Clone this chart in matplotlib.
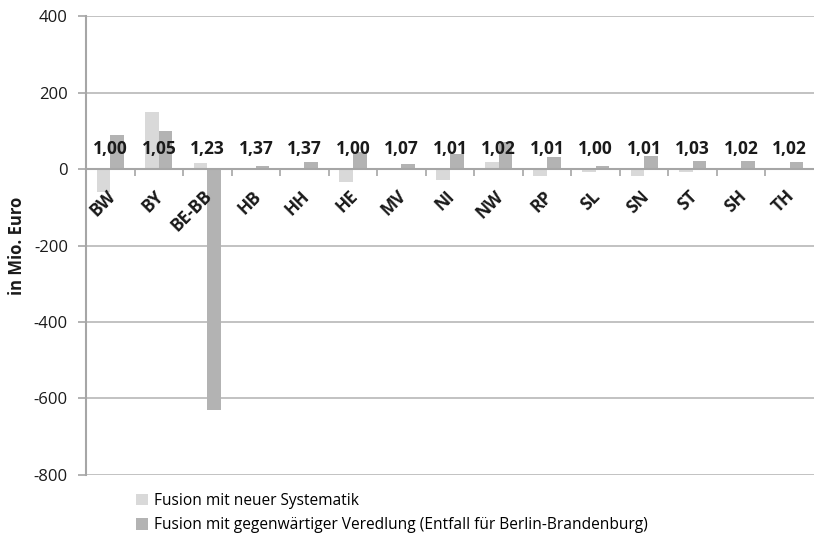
import matplotlib.pyplot as plt
import matplotlib.transforms as mtransforms
import numpy as np

plt.rcParams['font.family'] = ['Open Sans', 'DejaVu Sans']
plt.rcParams['axes.unicode_minus'] = False

# Daten
laender = ['BW', 'BY', 'BE-BB', 'HB', 'HH', 'HE', 'MV', 'NI', 'NW', 'RP',
           'SL', 'SN', 'ST', 'SH', 'TH']
neue_systematik = [-60, 150, 15, 0, 0, -34, 0, -28, 18, -17, -8, -19, -7, 0, 0]
gegenw_veredlung = [90, 100, -631, 7, 18, 45, 14, 40, 70, 31, 8, 34, 20, 22, 18]
faktoren = ['1,00', '1,05', '1,23', '1,37', '1,37', '1,00', '1,07', '1,01',
            '1,02', '1,01', '1,00', '1,01', '1,03', '1,02', '1,02']

HELL = '#d9d9d9'
DUNKEL = '#b3b3b3'
GRAU = '#a6a6a6'
TEXT = '#1a1a1a'

fig = plt.figure(figsize=(8.14, 5.34), dpi=100)
ax = fig.add_axes([0.1057, 0.1105, 0.8943, 0.8595])

x = np.arange(len(laender))
w = 0.28
ax.bar(x - w / 2, neue_systematik, w, color=HELL, zorder=3,
       label='Fusion mit neuer Systematik')
ax.bar(x + w / 2, gegenw_veredlung, w, color=DUNKEL, zorder=3,
       label='Fusion mit gegenwärtiger Veredlung (Entfall für Berlin-Brandenburg)')

# Faktoren über jeder Kategorie
for xi, f in zip(x, faktoren):
    ax.text(xi, 52, f, ha='center', va='center', fontsize=12.5,
            fontweight='bold', color=TEXT, zorder=4)

ax.set_xlim(-0.5, len(laender) - 0.5)
ax.set_ylim(-800, 400)
ax.set_yticks(np.arange(-800, 401, 200))
ax.yaxis.grid(True, color='#b8b8b8', linewidth=1.2, zorder=0)
ax.tick_params(axis='y', labelsize=12, length=6, color=GRAU, width=1.2,
               labelcolor=TEXT, pad=7)

ax.spines['top'].set_visible(False)
ax.spines['right'].set_visible(False)
ax.spines['left'].set_color(GRAU)
ax.spines['left'].set_linewidth(1.5)
ax.spines['bottom'].set_position(('data', 0))
ax.spines['bottom'].set_color(GRAU)
ax.spines['bottom'].set_linewidth(1.5)
ax.spines['bottom'].set_zorder(5)

# Kategorien-Beschriftung und Trennstriche (über den Balken)
ax.xaxis.set_zorder(4)
ax.set_xticks(x)
ax.set_xticklabels(laender, rotation=45, ha='right', rotation_mode='anchor',
                   fontsize=12.5, fontweight='bold', color=TEXT)
ax.tick_params(axis='x', which='major', length=0, pad=13)
ax.set_xticks(np.arange(0.5, len(laender) - 0.5, 1), minor=True)
ax.tick_params(axis='x', which='minor', length=5, color=GRAU, width=1.2,
               direction='out')
versatz = mtransforms.ScaledTranslation(-3 / 72, 0, fig.dpi_scale_trans)
for lbl in ax.get_xticklabels():
    lbl.set_transform(lbl.get_transform() + versatz)

ax.set_ylabel('in Mio. Euro', fontsize=12, fontweight='bold', color=TEXT,
              labelpad=6)

ax.legend(loc='upper left', bbox_to_anchor=(0.06, -0.025), frameon=False,
          fontsize=11.2, handlelength=0.75, handleheight=0.75, handletextpad=0.4,
          labelspacing=0.55, borderaxespad=0)

fig.savefig('out.png', dpi=100)
